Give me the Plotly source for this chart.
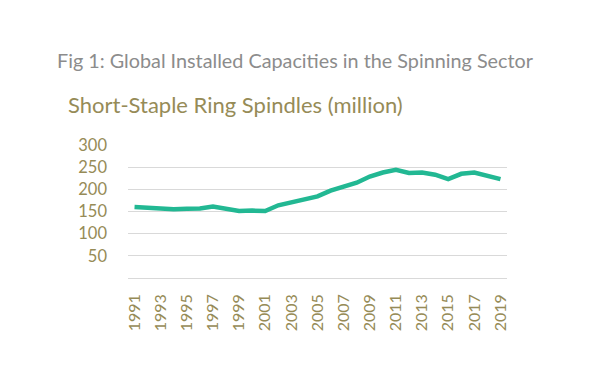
import plotly.graph_objects as go

years = list(range(1991, 2020))
spindles = [160, 158, 155, 155, 156, 157, 161, 155, 151, 152, 151, 164, 170, 177, 184,
            197, 207, 215, 229, 238, 244, 237, 238, 233, 223, 235, 238, 230, 223]
tick_years = list(range(1991, 2020, 2))
y_ticks = [0, 50, 100, 150, 200, 250, 300]
y_labels = ["", "50", "100", "150", "200", "250", "300"]

# page has an 8px body margin, so figure coords = page coords - 8
OFF = 8
W, H = 600, 376
ML, MR, MT, MB = 128 - OFF, 600 - (507 - OFF), 145 - OFF, 376 - (278 - OFF)
plot_w = W - ML - MR
plot_h = H - MT - MB

def px_x(x):
    return (x - OFF - ML) / plot_w

def px_y(y):
    return (H - MB - (y - OFF)) / plot_h

olive = "#968b57"
fig = go.Figure()
fig.add_trace(go.Scatter(x=years, y=spindles, mode="lines",
                         line=dict(color="#22b893", width=4.5), hoverinfo="x+y"))

fig.update_layout(
    width=W, height=H,
    margin=dict(l=ML, r=MR, t=MT, b=MB, autoexpand=False),
    paper_bgcolor="white", plot_bgcolor="white",
    showlegend=False,
    font=dict(family="Lato, sans-serif", color=olive),
    annotations=[
        dict(text="Fig 1: Global Installed Capacities in the Spinning Sector",
             x=px_x(295), y=px_y(60), xref="paper", yref="paper", showarrow=False,
             font=dict(size=19.8, color="#8c8c8c"), xanchor="center", yanchor="middle"),
        dict(text="Short-Staple Ring Spindles (million)",
             x=px_x(66), y=px_y(104), xref="paper", yref="paper", showarrow=False,
             font=dict(size=22, color=olive), xanchor="left", yanchor="middle"),
    ],
)

fig.update_xaxes(range=[1990.5, 2019.5], tickvals=tick_years, ticktext=[str(y) for y in tick_years],
                 tickangle=-90, showgrid=False, zeroline=False, showline=False, automargin=False,
                 tickfont=dict(size=16, color=olive), ticks="", ticklabelstandoff=12)
fig.update_yaxes(range=[0, 300], tickvals=y_ticks, ticktext=y_labels, automargin=False,
                 showgrid=True, gridcolor="#d9d9d9", gridwidth=1,
                 zeroline=True, zerolinecolor="#d9d9d9", zerolinewidth=1,
                 showline=False, tickfont=dict(size=16.5, color=olive), ticks="",
                 ticklabelstandoff=20)

fig.write_html("out.html")
